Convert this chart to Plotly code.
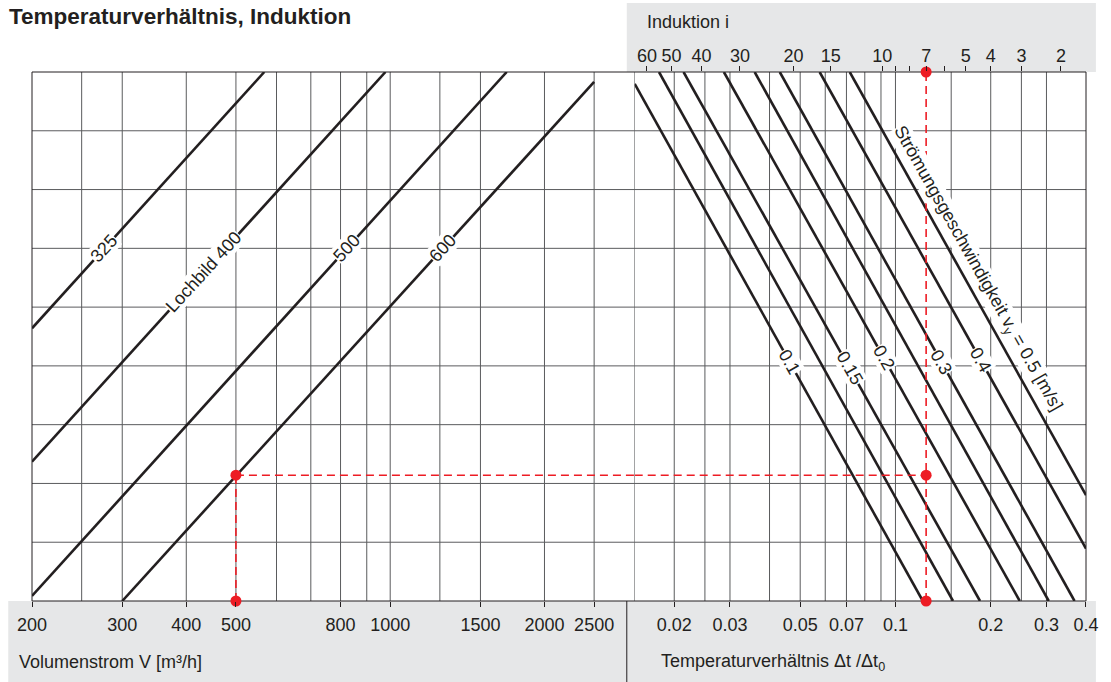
import math
import plotly.graph_objects as go

# ---------------- data ----------------
# Left panel: Volumenstrom V [m³/h], logarithmic
vol_range = [200, 3000]
vol_tickvals = [200, 300, 400, 500, 800, 1000, 1500, 2000, 2500]
vol_grid = [250, 300, 400, 500, 600, 700, 800, 900, 1000, 1250, 1500, 2000, 2500, 3000]

# Right panel: Temperaturverhältnis Δt/Δt0, logarithmic
temp_range = [0.015, 0.4]
temp_tickvals = [0.02, 0.03, 0.05, 0.07, 0.1, 0.2, 0.3, 0.4]
temp_ticktext = ["0.02", "0.03", "0.05", "0.07", "0.1", "0.2", "0.3", "0.4"]
temp_grid = [0.02, 0.025, 0.03, 0.04, 0.05, 0.06, 0.07, 0.08, 0.09, 0.1, 0.15, 0.2, 0.25, 0.3]

# Top scale: Induktion i (placed at ratio 1/(1+i) on the right axis)
induction_labeled = [60, 50, 40, 30, 20, 15, 10, 7, 5, 4, 3, 2]
induction_unlabeled = [9, 8, 6]

# Horizontal grid (unlabelled y axis, 9 equal intervals)
y_grid = [1, 2, 3, 4, 5, 6, 7, 8]

# Lochbild lines (left panel): start / end points
lochbild_names = ["325", "400", "500", "600"]
lochbild_label = ["325", "Lochbild 400", "500", "600"]
lochbild_V0 = [200, 200, 200, 300]
lochbild_y0 = [4.64, 2.37, 0.085, 0.0]
lochbild_V1 = [568, 979, 1688, 2500]
lochbild_y1 = [9.0, 9.0, 9.0, 8.83]
lochbild_label_y = [6.0, 5.59, 6.0, 6.0]

# Strömungsgeschwindigkeit lines (right panel): start / end points
velocity = [0.1, 0.125, 0.15, 0.2, 0.25, 0.3, 0.4, 0.5]
vel_r0 = [0.015, 0.0179, 0.0214, 0.0287, 0.0359, 0.0431, 0.0576, 0.0717]
vel_y0 = [8.80, 9.0, 9.0, 9.0, 9.0, 9.0, 9.0, 9.0]
vel_r1 = [0.122, 0.152, 0.185, 0.247, 0.305, 0.368, 0.4, 0.4]
vel_y1 = [0.0, 0.0, 0.0, 0.0, 0.0, 0.0, 0.89, 1.80]
vel_label = ["0.1", None, "0.15", "0.2", None, "0.3", "0.4", None]
vel_label_y = [4.07, None, 3.96, 4.13, None, 4.07, 4.10, None]
long_label = "Strömungsgeschwindigkeit v<sub>y</sub> = 0.5 [m/s]"
long_label_r = 0.1806
long_label_y = 5.65

# Worked example (red)
example_V = 500
example_i = 7
example_y = 2.14

# ---------------- styling / geometry ----------------
W, H = 1111, 682
ML, MR, MT, MB = 32, 14, 72, 81
PW, PH = W - ML - MR, H - MT - MB
BOUND_PX = 641
dL = (BOUND_PX - ML) / PW
BLACK = "#231f20"
GRID = "#5a5b5d"
RED = "#ed1c24"
GRAY = "#e6e7e8"
FONT = "Liberation Sans, Arial, sans-serif"
FS = 18


def px_x(px):
    return (px - ML) / PW


def px_y(py):
    return (H - MB - py) / PH


def log_interp(xa, ya, xb, yb, y):
    la, lb = math.log10(xa), math.log10(xb)
    return 10 ** (la + (y - ya) / (yb - ya) * (lb - la))


left_ppd = dL * PW / (math.log10(vol_range[1]) - math.log10(vol_range[0]))
right_ppd = (1 - dL) * PW / (math.log10(temp_range[1]) - math.log10(temp_range[0]))
unit_px = PH / 9.0

fig = go.Figure()

for V0, y0, V1, y1 in zip(lochbild_V0, lochbild_y0, lochbild_V1, lochbild_y1):
    fig.add_trace(go.Scatter(x=[V0, V1], y=[y0, y1], mode="lines",
                             line=dict(color=BLACK, width=2.6),
                             xaxis="x", yaxis="y", hoverinfo="skip", showlegend=False))

for r0, y0, r1, y1 in zip(vel_r0, vel_y0, vel_r1, vel_y1):
    fig.add_trace(go.Scatter(x=[r0, r1], y=[y0, y1], mode="lines",
                             line=dict(color=BLACK, width=2.6),
                             xaxis="x2", yaxis="y", hoverinfo="skip", showlegend=False))

r_ex = 1.0 / (1.0 + example_i)
dash = dict(color=RED, width=1.6, dash="8px,5px")
fig.add_trace(go.Scatter(x=[example_V, example_V], y=[0, example_y], mode="lines", line=dash,
                         xaxis="x", yaxis="y", showlegend=False, hoverinfo="skip"))
fig.add_trace(go.Scatter(x=[example_V, vol_range[1]], y=[example_y, example_y], mode="lines", line=dash,
                         xaxis="x", yaxis="y", showlegend=False, hoverinfo="skip"))
fig.add_trace(go.Scatter(x=[temp_range[0], r_ex], y=[example_y, example_y], mode="lines", line=dash,
                         xaxis="x2", yaxis="y", showlegend=False, hoverinfo="skip"))
fig.add_trace(go.Scatter(x=[r_ex, r_ex], y=[0, 9], mode="lines", line=dash,
                         xaxis="x2", yaxis="y", showlegend=False, hoverinfo="skip"))
fig.add_trace(go.Scatter(x=[example_V, example_V], y=[0, example_y], mode="markers",
                         marker=dict(color=RED, size=11), cliponaxis=False,
                         xaxis="x", yaxis="y", showlegend=False, hoverinfo="skip"))
fig.add_trace(go.Scatter(x=[r_ex, r_ex], y=[0, example_y], mode="markers",
                         marker=dict(color=RED, size=11), cliponaxis=False,
                         xaxis="x2", yaxis="y", showlegend=False, hoverinfo="skip"))
fig.add_trace(go.Scatter(x=[r_ex], y=[9], mode="markers",
                         marker=dict(color=RED, size=11), cliponaxis=False,
                         xaxis="x3", yaxis="y", showlegend=False, hoverinfo="skip"))

# ---------------- shapes ----------------
shapes = []
shapes.append(dict(type="rect", xref="paper", yref="paper", layer="below",
                   x0=px_x(8), x1=px_x(1107), y0=px_y(682), y1=0,
                   fillcolor=GRAY, line=dict(width=0)))
shapes.append(dict(type="rect", xref="paper", yref="paper", layer="below",
                   x0=px_x(633), x1=px_x(1107), y0=1, y1=px_y(3),
                   fillcolor=GRAY, line=dict(width=0)))
shapes.append(dict(type="line", xref="paper", yref="paper", layer="below",
                   x0=px_x(633), x1=px_x(633), y0=px_y(682), y1=0,
                   line=dict(color=BLACK, width=1)))
for yv in y_grid:
    shapes.append(dict(type="line", xref="paper", yref="y", layer="below",
                       x0=0, x1=1, y0=yv, y1=yv, line=dict(color=GRID, width=1)))
for v in vol_grid:
    shapes.append(dict(type="line", xref="x", yref="paper", layer="below",
                       x0=v, x1=v, y0=0, y1=1, line=dict(color=GRID, width=1)))
for v in temp_grid:
    shapes.append(dict(type="line", xref="x2", yref="paper", layer="below",
                       x0=v, x1=v, y0=0, y1=1, line=dict(color=GRID, width=1)))
shapes.append(dict(type="rect", xref="paper", yref="paper", layer="below",
                   x0=0, x1=1, y0=0, y1=1, line=dict(color=BLACK, width=1)))

# ---------------- annotations ----------------
ann = []
ann.append(dict(text="<b>Temperaturverhältnis, Induktion</b>", xref="paper", yref="paper",
                x=px_x(7), y=px_y(16), xanchor="left", yanchor="middle", showarrow=False,
                font=dict(family=FONT, size=22.5, color=BLACK)))
ann.append(dict(text="Induktion i", xref="paper", yref="paper",
                x=px_x(651), y=px_y(22), xanchor="left", yanchor="middle", showarrow=False,
                font=dict(family=FONT, size=FS, color=BLACK)))
ann.append(dict(text="Volumenstrom V [m³/h]", xref="paper", yref="paper",
                x=px_x(17), y=px_y(662), xanchor="left", yanchor="middle", showarrow=False,
                font=dict(family=FONT, size=FS, color=BLACK)))
ann.append(dict(text="Temperaturverhältnis \u0394t /\u0394t<sub>0</sub>", xref="paper", yref="paper",
                x=px_x(666), y=px_y(662), xanchor="left", yanchor="middle", showarrow=False,
                font=dict(family=FONT, size=FS, color=BLACK)))

for lab, ly, V0, y0, V1, y1 in zip(lochbild_label, lochbild_label_y, lochbild_V0, lochbild_y0,
                                   lochbild_V1, lochbild_y1):
    slope = (y1 - y0) / (math.log10(V1) - math.log10(V0)) * unit_px / left_ppd
    ang = -math.degrees(math.atan(slope))
    xv = log_interp(V0, y0, V1, y1, ly)
    ann.append(dict(text=lab, x=math.log10(xv), y=ly, xref="x", yref="y", showarrow=False,
                    textangle=ang, bgcolor="white", borderpad=0,
                    font=dict(family=FONT, size=FS, color=BLACK)))

for lab, ly, r0, y0, r1, y1 in zip(vel_label, vel_label_y, vel_r0, vel_y0, vel_r1, vel_y1):
    if lab is None:
        continue
    slope = (y1 - y0) / (math.log10(r1) - math.log10(r0)) * unit_px / right_ppd
    ang = -math.degrees(math.atan(slope))
    xv = log_interp(r0, y0, r1, y1, ly)
    ann.append(dict(text=lab, x=math.log10(xv), y=ly, xref="x2", yref="y", showarrow=False,
                    textangle=ang, bgcolor="white", borderpad=0,
                    font=dict(family=FONT, size=FS, color=BLACK)))

s5 = (vel_y1[-1] - vel_y0[-1]) / (math.log10(vel_r1[-1]) - math.log10(vel_r0[-1])) * unit_px / right_ppd
ann.append(dict(text=long_label, x=math.log10(long_label_r), y=long_label_y, xref="x2", yref="y",
                showarrow=False, textangle=-math.degrees(math.atan(s5)), bgcolor="white", borderpad=0,
                font=dict(family=FONT, size=FS, color=BLACK)))

# ---------------- layout ----------------
tickfont = dict(family=FONT, size=FS, color=BLACK)
fig.update_layout(
    width=W, height=H, autosize=False,
    margin=dict(l=ML, r=MR, t=MT, b=MB, pad=0),
    paper_bgcolor="white", plot_bgcolor="rgba(0,0,0,0)",
    showlegend=False,
    shapes=shapes, annotations=ann,
    xaxis=dict(type="log", domain=[0, dL], anchor="y",
               range=[math.log10(vol_range[0]), math.log10(vol_range[1])],
               tickmode="array", tickvals=vol_tickvals, ticktext=[str(v) for v in vol_tickvals],
               ticks="outside", ticklen=5, tickcolor=BLACK, tickwidth=1,
               showgrid=False, zeroline=False, showline=False, tickfont=tickfont,
               ticklabelstandoff=2),
    xaxis2=dict(type="log", domain=[dL, 1], anchor="y",
                range=[math.log10(temp_range[0]), math.log10(temp_range[1])],
                tickmode="array", tickvals=temp_tickvals, ticktext=temp_ticktext,
                ticks="outside", ticklen=5, tickcolor=BLACK, tickwidth=1,
                showgrid=False, zeroline=False, showline=False, tickfont=tickfont,
                ticklabelstandoff=2),
    xaxis3=dict(type="log", overlaying="x2", side="top", anchor="y", domain=[dL, 1],
                range=[math.log10(temp_range[0]), math.log10(temp_range[1])],
                tickmode="array",
                tickvals=[1.0 / (1 + i) for i in induction_labeled],
                ticktext=[str(i) for i in induction_labeled],
                ticks="outside", ticklen=5, tickcolor=BLACK, tickwidth=1,
                minor=dict(tickmode="array",
                           tickvals=[1.0 / (1 + i) for i in induction_unlabeled],
                           ticks="outside", ticklen=5, tickcolor=BLACK, tickwidth=1,
                           showgrid=False),
                showgrid=False, zeroline=False, showline=False, tickfont=tickfont,
                ticklabelstandoff=-3),
    yaxis=dict(range=[0, 9], domain=[0, 1], showticklabels=False, ticks="",
               showgrid=False, zeroline=False, showline=False),
)

fig.write_html("out.html")
